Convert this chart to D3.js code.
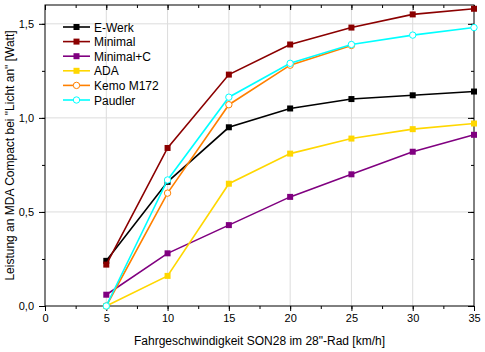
<!DOCTYPE html>
<html>
<head>
<meta charset="utf-8">
<script src="https://cdn.jsdelivr.net/npm/d3@7"></script>
<style>
  body { margin: 0; background: #fff; }
  svg { font-family: "Liberation Sans", Arial, sans-serif; }
</style>
</head>
<body>
<div id="chart"></div>
<script>
// Data
const speeds = [5, 10, 15, 20, 25, 30, 35]
const eWerk = [0.24, 0.66, 0.95, 1.05, 1.10, 1.12, 1.14]
const minimal = [0.22, 0.84, 1.23, 1.39, 1.48, 1.55, 1.58]
const minimalC = [0.06, 0.28, 0.43, 0.58, 0.70, 0.82, 0.91]
const ada = [0.0, 0.16, 0.65, 0.81, 0.89, 0.94, 0.97]
const kemo = [0.0, 0.60, 1.07, 1.28, 1.385]
const paudler = [0.0, 0.67, 1.11, 1.29, 1.39, 1.44, 1.48]
const xTicks = [0, 5, 10, 15, 20, 25, 30, 35]
const yTicks = [0, 0.5, 1.0, 1.5]

const seriesList = [
	{ label: "E-Werk", values: eWerk, color: "#000000", open: false },
	{ label: "Minimal", values: minimal, color: "#8b0000", open: false },
	{ label: "Minimal+C", values: minimalC, color: "#800080", open: false },
	{ label: "ADA", values: ada, color: "#ffd700", open: false },
	{ label: "Kemo M172", values: kemo, color: "#ff8000", open: true },
	{ label: "Paudler", values: paudler, color: "#00ffff", open: true },
]

const W = 485, H = 352
const margin = { top: 5, right: 11, bottom: 46, left: 45 }
const width = W - margin.left - margin.right
const height = H - margin.top - margin.bottom

const svg = d3.select("#chart").append("svg")
	.attr("width", W).attr("height", H)
const g = svg.append("g")
	.attr("transform", `translate(${margin.left},${margin.top})`)

const x = d3.scaleLinear().domain([0, 35]).range([0, width])
const y = d3.scaleLinear().domain([0, 1.6]).range([height, 0])
const fmt = (d) => d3.format(".1f")(d).replace(".", ",")

// grid
g.append("g").selectAll("line").data(xTicks.filter((d) => d > 0 && d < 35))
	.join("line")
	.attr("x1", (d) => x(d)).attr("x2", (d) => x(d))
	.attr("y1", 0).attr("y2", height)
	.attr("stroke", "#dcdcdc").attr("stroke-width", 1)
g.append("g").selectAll("line").data(yTicks.filter((d) => d > 0))
	.join("line")
	.attr("x1", 0).attr("x2", width)
	.attr("y1", (d) => y(d)).attr("y2", (d) => y(d))
	.attr("stroke", "#dcdcdc").attr("stroke-width", 1)

// axes
const xMinor = d3.range(0, 35.01, 2.5)
const yMinor = d3.range(0, 1.601, 0.25)

const styleAxis = (sel) => {
	sel.select(".domain").remove()
	sel.selectAll("text").attr("fill", "#000").style("font-size", "11px")
	sel.selectAll("line").attr("stroke", "#000")
}

g.append("g").attr("transform", `translate(0,${height})`)
	.call(d3.axisBottom(x).tickValues(xMinor).tickSize(3).tickFormat(""))
	.call(styleAxis)
g.append("g").attr("transform", `translate(0,${height})`)
	.call(d3.axisBottom(x).tickValues(xTicks).tickSize(5).tickPadding(3).tickFormat(d3.format("d")))
	.call(styleAxis)
g.append("g")
	.call(d3.axisTop(x).tickValues(xMinor).tickSize(-3).tickFormat(""))
	.call(styleAxis)
g.append("g")
	.call(d3.axisTop(x).tickValues(xTicks).tickSize(-5).tickFormat(""))
	.call(styleAxis)

g.append("g")
	.call(d3.axisLeft(y).tickValues(yMinor).tickSize(3).tickFormat(""))
	.call(styleAxis)
g.append("g")
	.call(d3.axisLeft(y).tickValues(yTicks).tickSize(6).tickPadding(5).tickFormat(fmt))
	.call(styleAxis)
g.append("g").attr("transform", `translate(${width},0)`)
	.call(d3.axisRight(y).tickValues(yMinor).tickSize(-3).tickFormat(""))
	.call(styleAxis)
g.append("g").attr("transform", `translate(${width},0)`)
	.call(d3.axisRight(y).tickValues(yTicks).tickSize(-6).tickFormat(""))
	.call(styleAxis)

// frame
g.append("rect")
	.attr("width", width).attr("height", height)
	.attr("fill", "none").attr("stroke", "#000").attr("stroke-width", 1)

// lines
const line = d3.line()
	.x((d) => x(d[0]))
	.y((d) => y(d[1]))

seriesList.forEach((s) => {
	const pts = s.values.map((v, i) => [speeds[i], v])
	g.append("path")
		.datum(pts)
		.attr("fill", "none")
		.attr("stroke", s.color)
		.attr("stroke-width", 1.6)
		.attr("d", line)
	if (s.open) {
		g.append("g").selectAll("circle").data(pts).join("circle")
			.attr("cx", (d) => x(d[0])).attr("cy", (d) => y(d[1]))
			.attr("r", 3.2)
			.attr("fill", "#fff").attr("stroke", s.color).attr("stroke-width", 1)
	} else {
		g.append("g").selectAll("rect").data(pts).join("rect")
			.attr("x", (d) => x(d[0]) - 3).attr("y", (d) => y(d[1]) - 3)
			.attr("width", 6).attr("height", 6)
			.attr("fill", s.color)
	}
})

// legend
const legend = svg.append("g").attr("transform", "translate(63,27)")
seriesList.forEach((s, i) => {
	const row = legend.append("g").attr("transform", `translate(0,${i * 14.6})`)
	row.append("line")
		.attr("x1", 0).attr("x2", 27)
		.attr("stroke", s.color).attr("stroke-width", 1.6)
	if (s.open) {
		row.append("circle").attr("cx", 13.5).attr("cy", 0).attr("r", 3.2)
			.attr("fill", "#fff").attr("stroke", s.color)
	} else {
		row.append("rect").attr("x", 10.5).attr("y", -3).attr("width", 6).attr("height", 6)
			.attr("fill", s.color)
	}
	row.append("text")
		.attr("x", 31).attr("y", 4.5)
		.style("font-size", "12px")
		.text(s.label)
})

// axis titles
svg.append("text")
	.attr("x", margin.left + width / 2)
	.attr("y", 345)
	.attr("text-anchor", "middle")
	.style("font-size", "12px")
	.text("Fahrgeschwindigkeit SON28 im 28\"-Rad [km/h]")
svg.append("text")
	.attr("transform", `translate(14,${margin.top + height / 2}) rotate(-90)`)
	.attr("text-anchor", "middle")
	.style("font-size", "12px")
	.text("Leistung an MDA Compact bei \"Licht an\" [Watt]")
</script>
</body>
</html>
